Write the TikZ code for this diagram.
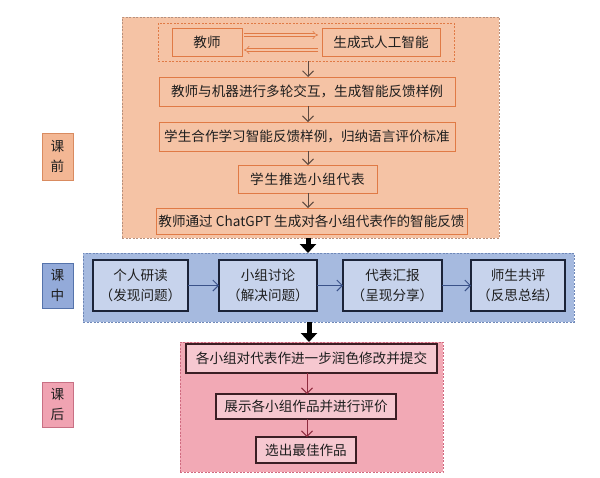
\documentclass[tikz,border=0pt]{standalone}
\usepackage{fontspec}
\setmainfont{Noto Sans CJK SC}
\newfontfamily\spacedfont[LetterSpace=6]{Noto Sans CJK SC}
\usetikzlibrary{arrows.meta,calc}
\definecolor{orbg}{HTML}{F5C3A5}
\definecolor{orline}{HTML}{E07A45}
\definecolor{ordash}{HTML}{B8907C}
\definecolor{orarrow}{HTML}{5E4A40}
\definecolor{orside}{HTML}{F3B794}
\definecolor{orsideline}{HTML}{D98B60}
\definecolor{blbg}{HTML}{A6BADF}
\definecolor{blbox}{HTML}{C7D3EC}
\definecolor{blline}{HTML}{1B2338}
\definecolor{bldash}{HTML}{6F88B8}
\definecolor{blarrow}{HTML}{3A5289}
\definecolor{blside}{HTML}{93AAD9}
\definecolor{blsideline}{HTML}{5573AB}
\definecolor{pkbg}{HTML}{F2A9B5}
\definecolor{pkbox}{HTML}{F6C8D0}
\definecolor{pkline}{HTML}{3B1E24}
\definecolor{pkdash}{HTML}{D06A80}
\definecolor{pkarrow}{HTML}{8E2B3E}
\definecolor{pkside}{HTML}{F0A3B2}
\definecolor{pksideline}{HTML}{C87084}
\definecolor{txt}{HTML}{1E1E1E}
\tikzset{
  every node/.style={inner sep=0pt, outer sep=0pt, text=txt, font=\fontsize{13.6}{20}\selectfont, align=center},
  zone/.style={draw=#1, dash pattern=on 2pt off 1.5pt, line width=0.8pt},
  orbox/.style={draw=orline, fill=orbg, line width=0.9pt},
  blbox/.style={draw=blline, fill=blbox, line width=1.4pt},
  pkbox/.style={draw=pkline, fill=pkbox, line width=1.2pt},
  sidebox/.style={line width=0.9pt, minimum width=31pt},
  flow/.style={draw=#1, line width=1pt, -{Straight Barb[length=5.5pt,width=11pt]}},
  hollow/.style={draw=orline, double=orbg, double distance=2.2pt, line width=0.6pt, -{Implies}},
  bigarrow/.style={draw=black, line width=5pt, -{Triangle[length=9pt,width=16pt]}}
}
\begin{document}
\begin{tikzpicture}[x=1pt,y=-1pt]
\useasboundingbox (0,0) rectangle (600,477);
\fill[white] (0,0) rectangle (600,477);
% containers
\node[zone=ordash, fill=orbg, minimum width=377pt, minimum height=221pt] (orange) at (310.5,127.5) {};
\node[zone=bldash, fill=blbg, minimum width=491pt, minimum height=69pt] (blue) at (328.5,287.5) {};
\node[zone=pkdash, fill=pkbg, minimum width=263pt, minimum height=130pt] (pink) at (311.5,407) {};
% side labels
\node[sidebox, draw=orsideline, fill=orside, minimum height=47pt] (qian) at (57.5,156.5) {课\\前};
\node[sidebox, draw=blsideline, fill=blside, minimum height=45pt] (zhong) at (57.5,285.5) {课\\中};
\node[sidebox, draw=pksideline, fill=pkside, minimum height=45pt] (hou) at (57.5,404.5) {课\\后};
% orange section
\node[zone=orline, minimum width=296pt, minimum height=38pt] (pair) at (306,42) {};
\node[orbox, minimum width=70pt, minimum height=28pt] (js) at (207,42) {教师};
\node[orbox, minimum width=118pt, minimum height=28pt] (ai) at (381,42) {生成式人工智能};
\node[orbox, minimum width=296pt, minimum height=29pt] (o2) at (307,91.5) {教师与机器进行多轮交互，生成智能反馈样例};
\node[orbox, minimum width=296pt, minimum height=29pt] (o3) at (307,136.5) {学生合作学习智能反馈样例，归纳语言评价标准};
\node[orbox, minimum width=139pt, minimum height=28pt] (o4) at (307.5,179) {{\spacedfont 学生推选小组代表}};
\node[orbox, minimum width=311pt, minimum height=26pt] (o5) at (311.5,221) {教师通过 ChatGPT 生成对各小组代表作的智能反馈};
\draw[hollow] ([xshift=2pt,yshift=7pt]js.east) -- ([xshift=-4pt,yshift=7pt]ai.west);
\draw[hollow] ([xshift=-4pt,yshift=-8pt]ai.west) -- ([xshift=2pt,yshift=-8pt]js.east);
\coordinate (ax) at (308,0);
\draw[flow=orarrow] (pair.south -| ax) -- (o2.north -| ax);
\draw[flow=orarrow] (o2.south -| ax) -- (o3.north -| ax);
\draw[flow=orarrow] (o3.south -| ax) -- (o4.north -| ax);
\draw[flow=orarrow] (o4.south -| ax) -- (o5.north -| ax);
% blue section
\node[blbox, minimum width=95pt, minimum height=51pt] (b1) at (140.5,285.5) {个人研读\\（发现问题）};
\node[blbox, minimum width=98pt, minimum height=51pt] (b2) at (268,285.5) {小组讨论\\（解决问题）};
\node[blbox, minimum width=99pt, minimum height=51pt] (b3) at (392.5,285.5) {代表汇报\\（呈现分享）};
\node[blbox, minimum width=94pt, minimum height=51pt] (b4) at (518,285.5) {师生共评\\（反思总结）};
\draw[flow=blarrow] (b1) -- (b2);
\draw[flow=blarrow] (b2) -- (b3);
\draw[flow=blarrow] (b3) -- (b4);
% pink section
\node[pkbox, minimum width=251pt, minimum height=29pt] (p1) at (311.5,358.5) {各小组对代表作进一步润色修改并提交};
\node[pkbox, minimum width=180pt, minimum height=25pt] (p2) at (306,406.5) {展示各小组作品并进行评价};
\node[pkbox, minimum width=100pt, minimum height=26pt] (p3) at (306,450) {选出最佳作品};
\coordinate (px) at (307,0);
\draw[flow=pkarrow] (p1.south -| px) -- (p2.north -| px);
\draw[flow=pkarrow] (p2.south -| px) -- (p3.north -| px);
% big arrows
\coordinate (bx1) at (308,0);
\coordinate (bx2) at (309,0);
\draw[bigarrow] (orange.south -| bx1) -- (blue.north -| bx1);
\draw[bigarrow] (blue.south -| bx2) -- (pink.north -| bx2);
\end{tikzpicture}
\end{document}
